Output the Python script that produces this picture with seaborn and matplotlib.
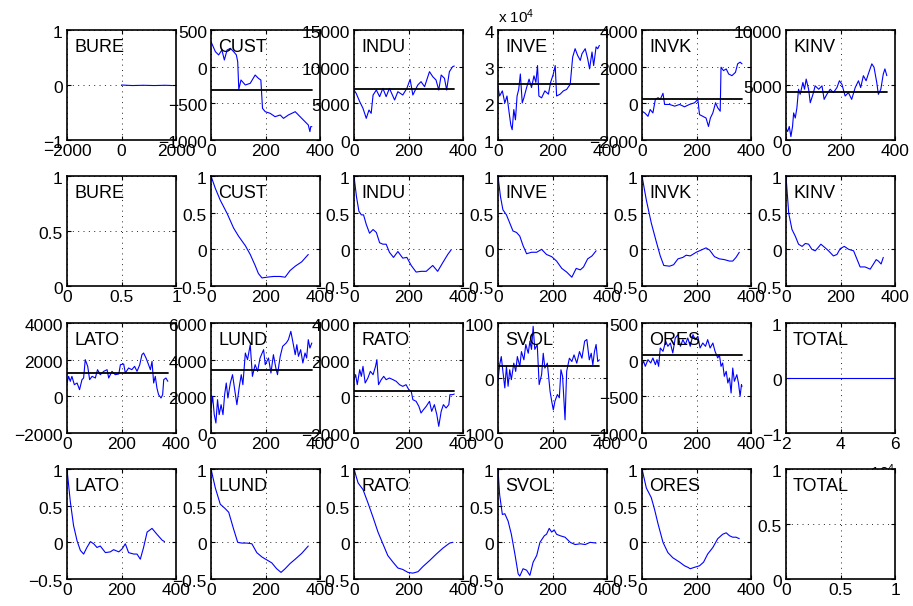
import numpy as np
import pandas as pd
import matplotlib
matplotlib.use('Agg')
import matplotlib.pyplot as plt
import seaborn as sns
from matplotlib.ticker import FuncFormatter
from matplotlib.transforms import ScaledTranslation

# ==========================================
# Data
# ==========================================
# level series (rows 1 and 3), with the level of the black mean line
BURE_X = [0, 400, 800, 1200, 1600, 1870]
BURE_Y = [0, -0.01, -0.005, -0.01, -0.005, -0.01]

CUST_X = [0, 16, 28, 40, 49, 59, 71, 83, 93, 98, 102, 110, 126, 144, 162, 174, 183, 189, 199, 217,
          235, 254, 266, 284, 309, 327, 345, 357, 363, 366, 370]
CUST_Y = [341, 205, 160, 227, 91, 227, 250, 205, 160, 68, -309, -182, -250, -227, -114, -159, -182,
          -568, -614, -636, -682, -659, -705, -659, -614, -682, -750, -795, -886, -818, -818]

INDU_X = [0, 8, 21, 33, 45, 55, 63, 70, 82, 94, 106, 118, 130, 149, 161, 179, 194, 206, 216, 234,
          246, 259, 277, 289, 301, 311, 320, 332, 340, 350, 362, 368]
INDU_Y = [6818, 6363, 5227, 4318, 2954, 4090, 3636, 6136, 6818, 5909, 7045, 5909, 7045, 5454, 6590,
          6136, 7045, 8272, 6136, 7500, 7954, 7272, 9318, 8636, 8181, 6818, 8863, 8409, 6818, 9318,
          10000, 10090]

INVE_X = [0, 6, 16, 25, 33, 41, 47, 52, 58, 64, 70, 76, 82, 89, 95, 105, 114, 123, 132, 139, 145,
          150, 160, 172, 185, 193, 203, 210, 215, 228, 240, 252, 265, 274, 283, 292, 302, 308, 320,
          329, 336, 345, 351, 360, 366, 372]
INVE_Y = [24300, 22000, 23400, 20100, 22000, 17400, 14100, 12800, 18300, 15500, 22000, 23800, 28000,
          20100, 21500, 24300, 26600, 24300, 27500, 25700, 30300, 22000, 21500, 23400, 22500, 25700,
          28000, 30300, 22000, 22500, 23400, 23800, 25200, 32600, 34900, 33100, 31700, 33500, 34900,
          32200, 29400, 34000, 30300, 35400, 34900, 35800]

INVK_X = [0, 10, 22, 30, 40, 49, 59, 67, 77, 83, 101, 120, 138, 156, 174, 193, 205, 211, 223, 235,
          244, 251, 260, 270, 278, 287, 290, 299, 309, 318, 330, 343, 351, 360, 367]
INVK_Y = [-430, -523, -707, -338, -523, 215, 308, 215, 548, -61, -61, -154, -61, -190, -61, 31, 215,
          -615, -707, -800, -1261, -800, -523, 31, -246, -430, 1969, 1785, 1877, 1600, 1508, 1692,
          2154, 2246, 2154]

KINV_X = [0, 6, 12, 18, 24, 28, 34, 40, 46, 52, 62, 68, 74, 83, 89, 99, 107, 120, 132, 140, 150,
          162, 174, 187, 196, 205, 217, 229, 241, 254, 266, 274, 284, 294, 302, 315, 323, 333, 339,
          348, 357, 363, 370]
KINV_Y = [1077, 769, 1231, 308, 1231, 2462, 2000, 2923, 4615, 4154, 5231, 4615, 5538, 4615, 3385,
          4154, 4923, 4615, 4923, 3692, 4154, 4615, 4308, 4769, 5385, 5077, 4000, 4308, 3692, 4769,
          5385, 4769, 5846, 5385, 6000, 6923, 6615, 5231, 4154, 4615, 6000, 6462, 5846]

LATO_X = [0, 6, 12, 18, 27, 37, 46, 55, 61, 67, 76, 83, 92, 104, 112, 122, 135, 147, 153, 165, 177,
          190, 196, 208, 214, 226, 238, 248, 257, 267, 275, 281, 290, 297, 306, 312, 318, 324, 330,
          336, 345, 351, 355, 363, 370]
LATO_Y = [727, 1090, 818, 1090, 636, 727, 364, 909, 1000, 2000, 1636, 909, 1090, 1000, 1454, 1181,
          1364, 1454, 1000, 1364, 1181, 1218, 1727, 1763, 1272, 1545, 1454, 1636, 1364, 1727, 2272,
          2363, 2090, 1818, 1454, 1909, 727, 1090, 454, 91, -91, 91, 909, 1000, 818]

LUND_X = [0, 6, 12, 18, 24, 30, 37, 44, 50, 56, 62, 71, 79, 87, 95, 104, 111, 117, 126, 134, 144,
          152, 162, 171, 180, 193, 199, 211, 220, 229, 238, 244, 254, 263, 276, 284, 293, 300, 309,
          315, 321, 329, 337, 345, 351, 357, 363, 370]
LUND_Y = [1364, 2000, 1000, 545, 1818, 1000, 1545, 1000, 2090, 2727, 1909, 2727, 3181, 2363, 1545,
          2545, 3181, 2636, 4363, 4000, 4818, 3090, 3727, 3363, 4090, 4545, 3727, 4090, 3272, 4272,
          3545, 3181, 4181, 4727, 4909, 5090, 5545, 5000, 4272, 4818, 4181, 4545, 3818, 4363, 4090,
          5090, 4636, 4909]

RATO_X = [0, 6, 12, 21, 27, 33, 41, 51, 60, 70, 79, 84, 90, 100, 109, 118, 130, 143, 155, 167, 179,
          191, 201, 210, 216, 228, 238, 246, 255, 265, 277, 285, 295, 304, 311, 320, 328, 338, 348,
          352, 362, 368]
RATO_Y = [909, 1181, 636, 1454, 1090, 1636, 727, 1000, 1364, 1181, 1636, 2000, 636, 909, 1090, 909,
          1000, 909, 818, 636, 545, 636, 364, 273, -182, -273, -545, -909, -727, -545, -273, -818,
          -454, -1000, -1636, -818, -454, -636, -454, 91, 91, 127]

SVOL_X = [0, 6, 12, 18, 25, 31, 37, 43, 49, 58, 65, 71, 80, 86, 95, 102, 111, 117, 123, 129, 135,
          144, 151, 160, 166, 172, 181, 191, 197, 203, 209, 218, 225, 231, 237, 246, 252, 262, 271,
          279, 289, 299, 308, 318, 326, 335, 342, 348, 354, 360, 366, 372]
SVOL_Y = [-5, 24, 39, 12, -18, 21, -15, 15, -3, 27, 12, 39, 21, 48, 33, 61, 45, 67, 52, 94, 52, 61,
          -12, 6, 45, 18, 27, -24, -42, -58, -42, -30, -36, 15, 3, -76, 12, 36, 30, 42, 27, 48, 36,
          67, 70, 33, 45, 24, 48, 61, 30, 33]

ORES_X = [0, 6, 12, 22, 32, 40, 49, 55, 61, 67, 77, 87, 95, 104, 113, 122, 132, 141, 150, 159, 168,
          177, 187, 195, 205, 213, 223, 233, 241, 250, 260, 268, 278, 284, 290, 296, 302, 309, 315,
          321, 327, 333, 339, 348, 354, 360, 365, 367]
ORES_Y = [-68, -23, -91, 0, -45, 23, -68, 0, -91, 159, 114, 250, 182, 227, 91, 295, 341, 182, 273,
          205, 295, 182, 341, 273, 318, 159, 227, 182, 273, 159, 227, 114, 23, 68, -91, -45, -227,
          -159, -318, -250, -455, -114, -295, -205, -318, -500, -341, -364]

TOTAL_X = [20200, 59800]
TOTAL_Y = [0, 0]

MEANS = {'CUST': -320, 'INDU': 6900, 'INVE': 25400, 'INVK': 250, 'KINV': 4400,
         'LATO': 1270, 'LUND': 3450, 'RATO': 270, 'SVOL': 21, 'ORES': 68}

# autocorrelation series (rows 2 and 4)
ACF_CUST_X = [0, 16, 34, 59, 83, 101, 126, 144, 162, 174, 187, 205, 229, 254, 272, 290, 309, 333, 357]
ACF_CUST_Y = [1, 0.83, 0.67, 0.49, 0.29, 0.18, 0.05, -0.07, -0.22, -0.33, -0.39, -0.38, -0.37, -0.37,
              -0.38, -0.29, -0.23, -0.17, -0.07]

ACF_INDU_X = [0, 9, 18, 27, 35, 45, 57, 70, 82, 94, 106, 118, 130, 145, 161, 179, 194, 210, 228, 246,
              265, 289, 307, 326, 344, 356]
ACF_INDU_Y = [1, 0.72, 0.52, 0.47, 0.47, 0.34, 0.22, 0.27, 0.23, 0.09, 0.07, 0.07, -0.04, -0.11, -0.03,
              -0.12, -0.11, -0.22, -0.31, -0.30, -0.30, -0.22, -0.30, -0.18, -0.07, -0.01]

ACF_INVE_X = [0, 9, 18, 31, 43, 55, 68, 80, 92, 105, 123, 142, 160, 178, 197, 215, 234, 252, 271, 287,
              302, 314, 329, 345, 360]
ACF_INVE_Y = [1, 0.72, 0.54, 0.47, 0.36, 0.25, 0.23, 0.18, 0.05, -0.06, -0.04, -0.04, 0.00, -0.07,
              -0.10, -0.16, -0.26, -0.31, -0.38, -0.26, -0.28, -0.24, -0.13, -0.09, -0.02]

ACF_INVK_X = [0, 16, 34, 52, 67, 80, 101, 116, 132, 150, 162, 177, 199, 217, 235, 248, 266, 284, 302,
              321, 333, 345, 357]
ACF_INVK_Y = [1, 0.67, 0.36, 0.11, -0.09, -0.22, -0.23, -0.21, -0.13, -0.11, -0.08, -0.09, -0.04,
              -0.01, 0.02, -0.01, -0.10, -0.13, -0.14, -0.16, -0.16, -0.11, -0.04]

ACF_KINV_X = [0, 10, 22, 34, 46, 59, 71, 83, 95, 107, 117, 128, 144, 156, 174, 187, 199, 214, 230, 248,
              260, 272, 290, 309, 321, 331, 339, 349, 357]
ACF_KINV_Y = [1, 0.49, 0.27, 0.18, 0.07, 0.04, 0.08, 0.07, 0.00, -0.02, 0.02, 0.07, 0.02, -0.02, -0.09,
              -0.07, 0.01, 0.04, 0.00, -0.02, -0.13, -0.24, -0.24, -0.27, -0.20, -0.14, -0.16, -0.20,
              -0.11]

ACF_LATO_X = [0, 12, 24, 37, 49, 61, 73, 86, 98, 110, 122, 141, 159, 171, 190, 202, 214, 226, 245, 257,
              269, 281, 294, 312, 330, 349, 358]
ACF_LATO_Y = [1, 0.56, 0.23, 0.02, -0.11, -0.16, -0.07, 0.01, -0.02, -0.07, -0.05, -0.14, -0.13, -0.10,
              -0.13, -0.09, -0.02, -0.14, -0.16, -0.16, -0.23, -0.07, 0.14, 0.19, 0.11, 0.03, 0.01]

ACF_LUND_X = [0, 16, 34, 52, 65, 83, 98, 113, 132, 150, 168, 187, 205, 223, 241, 257, 272, 290, 309,
              333, 357]
ACF_LUND_Y = [1, 0.74, 0.52, 0.46, 0.41, 0.18, 0.00, -0.01, -0.01, -0.02, -0.14, -0.20, -0.24, -0.28,
              -0.36, -0.41, -0.36, -0.29, -0.23, -0.15, -0.05]

ACF_RATO_X = [0, 15, 33, 51, 70, 88, 106, 124, 143, 161, 179, 198, 216, 235, 253, 277, 302, 326, 351, 363]
ACF_RATO_Y = [1, 0.81, 0.72, 0.54, 0.34, 0.14, -0.02, -0.18, -0.27, -0.35, -0.37, -0.41, -0.42, -0.40,
              -0.33, -0.25, -0.16, -0.08, -0.01, 0.00]

ACF_SVOL_X = [0, 6, 16, 25, 37, 49, 62, 74, 80, 92, 105, 117, 129, 142, 154, 170, 178, 188, 197, 206,
              215, 228, 246, 265, 283, 302, 320, 338, 360]
ACF_SVOL_Y = [1, 0.65, 0.38, 0.39, 0.29, 0.11, -0.16, -0.43, -0.46, -0.36, -0.38, -0.45, -0.27, -0.18,
              0.00, 0.09, 0.11, 0.19, 0.14, 0.17, 0.11, 0.09, 0.07, 0.00, -0.03, -0.02, -0.03, 0.00,
              -0.01]

ACF_ORES_X = [0, 16, 34, 46, 59, 77, 95, 113, 138, 156, 168, 177, 193, 211, 226, 241, 260, 278, 296,
              309, 321, 333, 345, 357]
ACF_ORES_Y = [1, 0.74, 0.61, 0.45, 0.25, 0.00, -0.14, -0.21, -0.27, -0.32, -0.34, -0.36, -0.34, -0.32,
              -0.27, -0.16, -0.07, 0.05, 0.11, 0.13, 0.09, 0.07, 0.07, 0.05]

# axis ranges / ticks per panel
LEVEL_Y_TICKS = {
    'BURE': [-1, 0, 1], 'CUST': [-1000, -500, 0, 500], 'INDU': [0, 5000, 10000, 15000],
    'INVE': [10000, 20000, 30000, 40000], 'INVK': [-2000, 0, 2000, 4000], 'KINV': [0, 5000, 10000],
    'LATO': [-2000, 0, 2000, 4000], 'LUND': [0, 2000, 4000, 6000], 'RATO': [-2000, 0, 2000, 4000],
    'SVOL': [-100, 0, 100], 'ORES': [-1000, -500, 0, 500], 'TOTAL': [-1, 0, 1],
}
LAG_TICKS = [0, 200, 400]
ACF_TICKS = [-0.5, 0, 0.5, 1]
EMPTY_TICKS = [0, 0.5, 1]

ROW1 = [('BURE', BURE_X, BURE_Y), ('CUST', CUST_X, CUST_Y), ('INDU', INDU_X, INDU_Y),
        ('INVE', INVE_X, INVE_Y), ('INVK', INVK_X, INVK_Y), ('KINV', KINV_X, KINV_Y)]
ROW2 = [('BURE', None, None), ('CUST', ACF_CUST_X, ACF_CUST_Y), ('INDU', ACF_INDU_X, ACF_INDU_Y),
        ('INVE', ACF_INVE_X, ACF_INVE_Y), ('INVK', ACF_INVK_X, ACF_INVK_Y), ('KINV', ACF_KINV_X, ACF_KINV_Y)]
ROW3 = [('LATO', LATO_X, LATO_Y), ('LUND', LUND_X, LUND_Y), ('RATO', RATO_X, RATO_Y),
        ('SVOL', SVOL_X, SVOL_Y), ('ORES', ORES_X, ORES_Y), ('TOTAL', TOTAL_X, TOTAL_Y)]
ROW4 = [('LATO', ACF_LATO_X, ACF_LATO_Y), ('LUND', ACF_LUND_X, ACF_LUND_Y), ('RATO', ACF_RATO_X, ACF_RATO_Y),
        ('SVOL', ACF_SVOL_X, ACF_SVOL_Y), ('ORES', ACF_ORES_X, ACF_ORES_Y), ('TOTAL', None, None)]

# ==========================================
# Style (matlab-ish)
# ==========================================
sns.set_style('ticks')
plt.rcParams['font.family'] = ['Liberation Sans', 'DejaVu Sans']
plt.rcParams['text.color'] = 'k'
plt.rcParams['mathtext.fontset'] = 'custom'
plt.rcParams['mathtext.rm'] = 'Liberation Sans'
plt.rcParams['mathtext.it'] = 'Liberation Sans:italic'

W, H = 913, 606
COL_LEFT = [67, 211, 354, 498, 642, 786]
ROW_TOP = [30, 176, 323, 469]
AX_W, AX_H = 109, 110
TICK_FS = 12.5
LABEL_FS = 13

fig = plt.figure(figsize=(W / 100, H / 100), dpi=100)
fig.patch.set_facecolor('white')
# matlab puts y tick labels a touch below the tick
YLBL_SHIFT = ScaledTranslation(0, -2 / 100, fig.dpi_scale_trans)


def fmt(scale=1):
    return FuncFormatter(lambda v, p: f'{v / scale:g}'.replace('-', '\u2212'))


def make_ax(row, col):
    return fig.add_axes([COL_LEFT[col] / W, 1 - (ROW_TOP[row] + AX_H) / H, AX_W / W, AX_H / H])


def style(ax, xlim, xticks, ylim, yticks, xscale=1, yscale=1):
    ax.set_xlim(xlim)
    ax.set_ylim(ylim)
    ax.set_xticks(xticks)
    ax.set_yticks(yticks)
    ax.xaxis.set_major_formatter(fmt(xscale))
    ax.yaxis.set_major_formatter(fmt(yscale))
    ax.grid(True, color='0.15', linestyle=(0, (1, 4.5)), linewidth=0.7)
    ax.set_axisbelow(True)
    ax.tick_params(direction='in', length=3, width=0.8, top=True, right=True,
                   labelsize=TICK_FS, pad=3, colors='k')
    for lbl in ax.get_yticklabels():
        lbl.set_transform(lbl.get_transform() + YLBL_SHIFT)
    for s in ax.spines.values():
        s.set_visible(True)
        s.set_linewidth(1.2)
        s.set_color('k')
    ax.set_xlabel('')
    ax.set_ylabel('')


def tag(ax, name):
    ax.text(0.065, 0.845, name, transform=ax.transAxes, fontsize=LABEL_FS, color='k',
            va='center', ha='left')


def draw(ax, x, y, mean=None):
    sns.lineplot(x=x, y=y, ax=ax, color='b', linewidth=0.8, estimator=None, sort=False)
    if mean is not None:
        sns.lineplot(x=[0, x[-1]], y=[mean, mean], ax=ax, color='k', linewidth=1.3,
                     estimator=None, sort=False)


# ---- rows 1 and 3: levels ----
for row, panels in ((0, ROW1), (2, ROW3)):
    for col, (name, x, y) in enumerate(panels):
        ax = make_ax(row, col)
        draw(ax, x, y, MEANS.get(name))
        yt = LEVEL_Y_TICKS[name]
        if name == 'BURE':
            style(ax, (-2000, 2000), [-2000, 0, 2000], (yt[0], yt[-1]), yt)
        elif name == 'TOTAL':
            style(ax, (20000, 60000), [20000, 40000, 60000], (yt[0], yt[-1]), yt, xscale=1e4)
            # mostly hidden behind the panel below, as in the original
            ax.text(1.0, -0.27, 'x 10$^{4}$', transform=ax.transAxes, ha='right', va='top',
                    fontsize=11, color='k', clip_on=False)
        elif name == 'INVE':
            style(ax, (0, 400), LAG_TICKS, (yt[0], yt[-1]), yt, yscale=1e4)
            ax.text(0.0, 1.04, 'x 10$^{4}$', transform=ax.transAxes, ha='left', va='bottom',
                    fontsize=11, color='k')
        else:
            style(ax, (0, 400), LAG_TICKS, (yt[0], yt[-1]), yt)
        tag(ax, name)

# ---- rows 2 and 4: autocorrelations ----
for row, panels in ((1, ROW2), (3, ROW4)):
    for col, (name, x, y) in enumerate(panels):
        ax = make_ax(row, col)
        if x is None:
            style(ax, (0, 1), EMPTY_TICKS, (0, 1), EMPTY_TICKS)
        else:
            draw(ax, x, y)
            style(ax, (0, 400), LAG_TICKS, (-0.5, 1), ACF_TICKS)
        tag(ax, name)

fig.savefig('out.png', dpi=100, facecolor='white')
